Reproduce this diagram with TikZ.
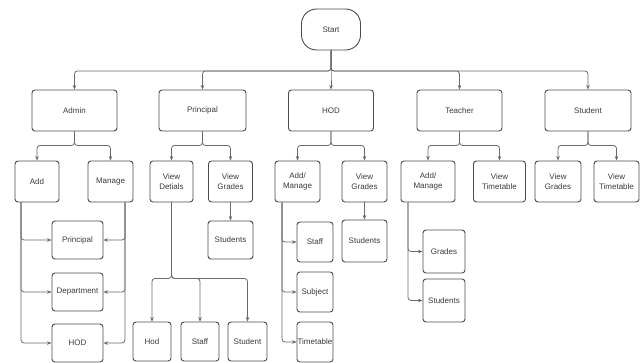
\documentclass[tikz,border=0pt]{standalone}
\usepackage{fontspec}
\setmainfont{Liberation Sans}
\usetikzlibrary{arrows.meta}
\definecolor{lin}{HTML}{6A6A6A}
\definecolor{bord}{HTML}{4A4A4A}
\definecolor{txt}{HTML}{3A3A3A}
\begin{document}
\begin{tikzpicture}[x=1pt,y=-1pt,
  box/.style={draw=bord,line width=0.9pt,rounded corners=3pt,inner sep=0pt,align=center,
    text=txt,font=\fontsize{8}{9.6}\selectfont,minimum height=41pt},
  arr/.style={draw=lin,line width=0.8pt,rounded corners=3pt,-{Stealth[length=4.5pt,width=3.5pt]}}]
\useasboundingbox (0,0) rectangle (642,362);
% level 0
\node[box,rounded corners=15pt,minimum width=59pt] (start) at (331,29.5) {Start};
% level 1
\node[box,minimum width=85pt] (admin) at (74.5,110.5) {Admin};
\node[box,minimum width=87pt] (principal) at (202.5,110.5) {Principal};
\node[box,minimum width=85pt] (hod) at (331,110.5) {HOD};
\node[box,minimum width=85pt] (teacher) at (459.5,110.5) {Teacher};
\node[box,minimum width=86pt] (student) at (588,110.5) {Student};
% level 2
\node[box,minimum width=44pt] (add) at (37,181.5) {Add};
\node[box,minimum width=45pt] (manage) at (110.5,181.5) {Manage};
\node[box,minimum width=43pt] (viewdet) at (171.5,181.5) {View\\Detials};
\node[box,minimum width=44pt] (viewgr) at (230.5,181.5) {View\\Grades};
\node[box,minimum width=45pt] (hodadd) at (297.5,181.5) {Add/\\Manage};
\node[box,minimum width=45pt] (hodview) at (364.5,181.5) {View\\Grades};
\node[box,minimum width=54pt] (teachadd) at (428,181.5) {Add/\\Manage};
\node[box,minimum width=52pt] (teachview) at (499.5,181.5) {View\\Timetable};
\node[box,minimum width=46pt] (studgr) at (558,181.5) {View\\Grades};
\node[box,minimum width=45pt] (studtt) at (616.5,181.5) {View\\Timetable};
% level 3 admin
\node[box,minimum width=51pt,minimum height=38pt] (prin2) at (77.5,240) {Principal};
\node[box,minimum width=51pt,minimum height=38pt] (dept) at (77.5,292) {Department};
\node[box,minimum width=51pt,minimum height=38pt] (hod2) at (77.5,343) {HOD};
% level 3 principal
\node[box,minimum width=45pt,minimum height=38pt] (pstud) at (230.5,240) {Students};
\node[box,minimum width=38pt,minimum height=39pt] (hod3) at (152,341.5) {Hod};
\node[box,minimum width=38pt,minimum height=39pt] (staff3) at (200,341.5) {Staff};
\node[box,minimum width=39pt,minimum height=39pt] (stud3) at (247.5,341.5) {Student};
% level 3 hod
\node[box,minimum width=36pt,minimum height=40pt] (staff4) at (315,242) {Staff};
\node[box,minimum width=36pt,minimum height=40pt] (subj) at (315,292) {Subject};
\node[box,minimum width=36pt,minimum height=40pt] (tt) at (315,342) {Timetable};
\node[box,minimum width=45pt,minimum height=42pt] (hstud) at (364.5,241) {Students};
% level 3 teacher
\node[box,minimum width=42pt,minimum height=43pt] (grades) at (444,251.5) {Grades};
\node[box,minimum width=42pt,minimum height=43pt] (tstud) at (444,300.5) {Students};
% connectors level 1
\foreach \t in {admin,principal,hod,teacher,student}
  \draw[arr] (start.south) -- ++(0,20.5) -| (\t.north);
% connectors level 2
\foreach \p/\a/\b in {admin/add/manage,principal/viewdet/viewgr,hod/hodadd/hodview,teacher/teachadd/teachview,student/studgr/studtt}{
  \draw[arr] (\p.south) -- ++(0,14) -| (\a.north);
  \draw[arr] (\p.south) -- ++(0,14) -| (\b.north);
}
% admin level 3
\foreach \t in {prin2,dept,hod2}{
  \draw[arr] (add.south -| 21,0) |- (\t.west);
  \draw[arr] (manage.south -| 125,0) |- (\t.east);
}
% principal level 3
\draw[arr] (viewgr) -- (pstud);
\foreach \t in {hod3,staff3,stud3}
  \draw[arr] (viewdet.south) -- ++(0,76) -| (\t.north);
% hod level 3
\draw[arr] (hodview) -- (hstud);
\foreach \t in {staff4,subj,tt}
  \draw[arr] (hodadd.south -| 282,0) |- (\t.west);
% teacher level 3
\foreach \t in {grades,tstud}
  \draw[arr] (teachadd.south -| 408,0) |- (\t.west);
\end{tikzpicture}
\end{document}
